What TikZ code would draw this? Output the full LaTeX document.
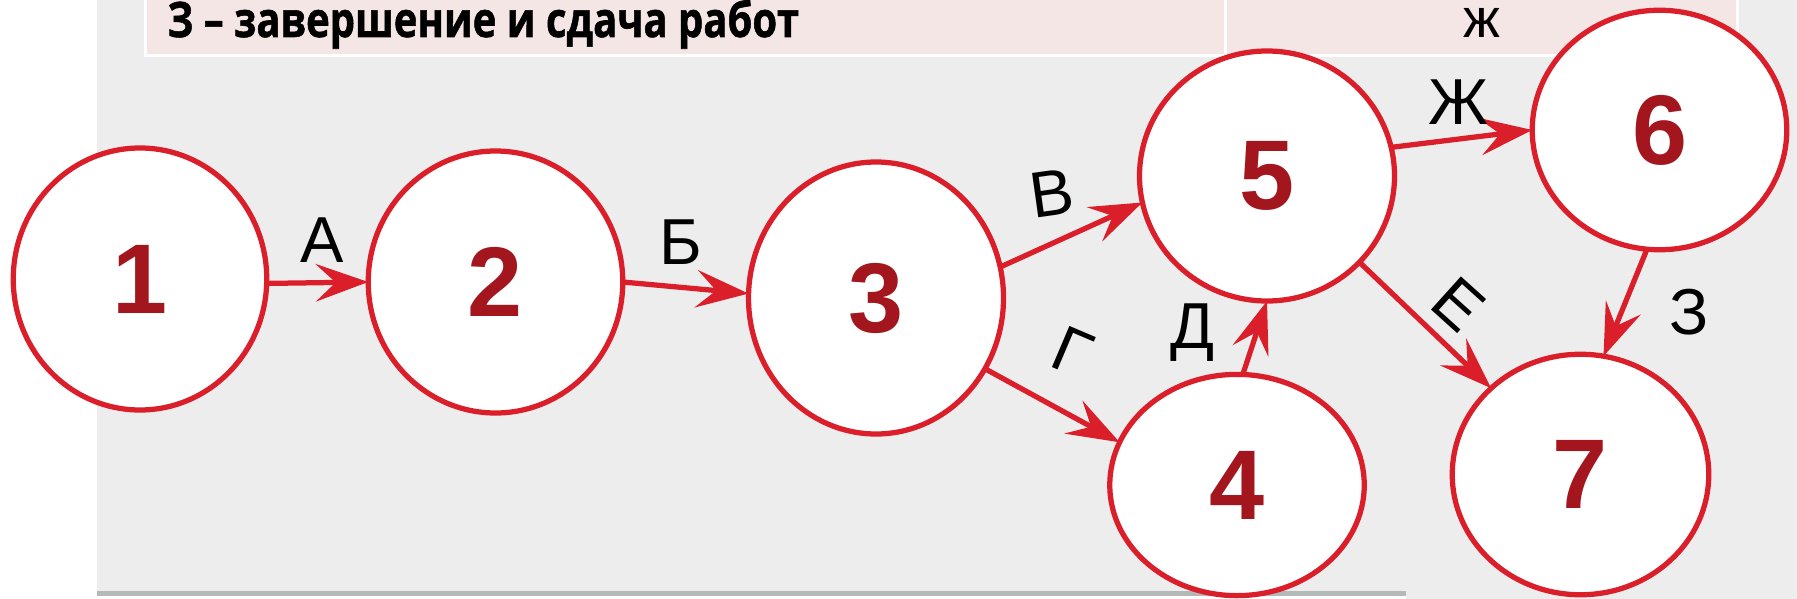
\documentclass[tikz,border=0pt]{standalone}
\usepackage{fontspec}
\setmainfont{Liberation Sans}
\newfontfamily\headfont[FakeBold=1.2]{Open Sans}
\usetikzlibrary{shapes.geometric,arrows.meta}
\definecolor{netred}{HTML}{DA1F2A}
\definecolor{digitred}{HTML}{A3161E}
\definecolor{headpink}{HTML}{F5E6E6}
\definecolor{panelgrey}{HTML}{EEEDED}
\definecolor{bottomline}{HTML}{B4B9B7}
\tikzset{
  event/.style={ellipse, draw=netred, line width=2.1pt, fill=white, inner sep=0pt, outer sep=0pt,
    text=digitred, font=\fontsize{39.6}{40}\selectfont\bfseries},
  arc/.style={draw=netred, line width=2.1pt, -{Stealth[length=21pt,width=15pt,inset=8pt]}},
  lbl/.style={inner sep=0pt, text=black, font=\fontsize{26}{26}\selectfont},
}
\begin{document}
\begin{tikzpicture}[x=0.4pt,y=-0.4pt]
\useasboundingbox (0,0) rectangle (1797,599);
% background panel
\fill[panelgrey] (97,0) rectangle (1797,594);
\fill[panelgrey] (1406,590) rectangle (1797,599);
\fill[bottomline] (97,591) rectangle (1406,596);
% header row
\fill[white] (144,0) rectangle (1739,57);
\fill[headpink] (147,0) rectangle (1736,54);
\fill[white] (1224,0) rectangle (1227,54);
\node[anchor=base west, inner sep=0pt, font=\headfont\bfseries\fontsize{16}{16}\selectfont] (head) at (167,37) {\scalebox{1}[1.22]{З – завершение и сдача работ}};
\node[anchor=base, inner sep=0pt, font=\fontsize{22}{22}\selectfont] (zh) at (1482,38) {ж};
% events
\node[event, minimum width=101.4pt, minimum height=104.8pt] (n1) at (140,279) {1};
\node[event, minimum width=101.8pt, minimum height=104.8pt] (n2) at (495.5,282) {2};
\node[event, minimum width=102pt, minimum height=108.8pt] (n3) at (876,298) {3};
\node[event, minimum width=101.8pt, minimum height=88.5pt] (n4) at (1237,485) {4};
\node[event, minimum width=102pt, minimum height=100pt] (n5) at (1267,176) {5};
\node[event, minimum width=101.8pt, minimum height=95.8pt] (n6) at (1659.5,130) {6};
\node[event, minimum width=102.6pt, minimum height=96.2pt] (n7) at (1580.5,474.5) {7};
% activities
\draw[arc] (n1.-2) -- (n2.180);
\draw[arc] (n2.0) -- (n3.178);
\draw[arc] (n3.14) -- (n5.192.6);
\draw[arc] (n3.-33) -- (n4.160);
\draw[arc] (n4.87.5) -- (n5.270);
\draw[arc] (n5.13.7) -- (n6.180);
\draw[arc] (n5.-43.7) -- (n7.136);
\draw[arc] (n6.264.5) -- (n7.79.5);
% labels
\node[lbl] (la) at (322,240) {А};
\node[lbl] (lb) at (681,242) {Б};
\node[lbl, rotate=8] (lv) at (1052,193) {В};
\node[lbl, rotate=-23] (lg) at (1072,352) {Г};
\node[lbl] (ld) at (1192,333) {Д};
\node[lbl, rotate=-42] (le) at (1459,304) {Е};
\node[lbl] (lzh) at (1458,102) {Ж};
\node[lbl] (lz) at (1689,312) {З};
\end{tikzpicture}
\end{document}
